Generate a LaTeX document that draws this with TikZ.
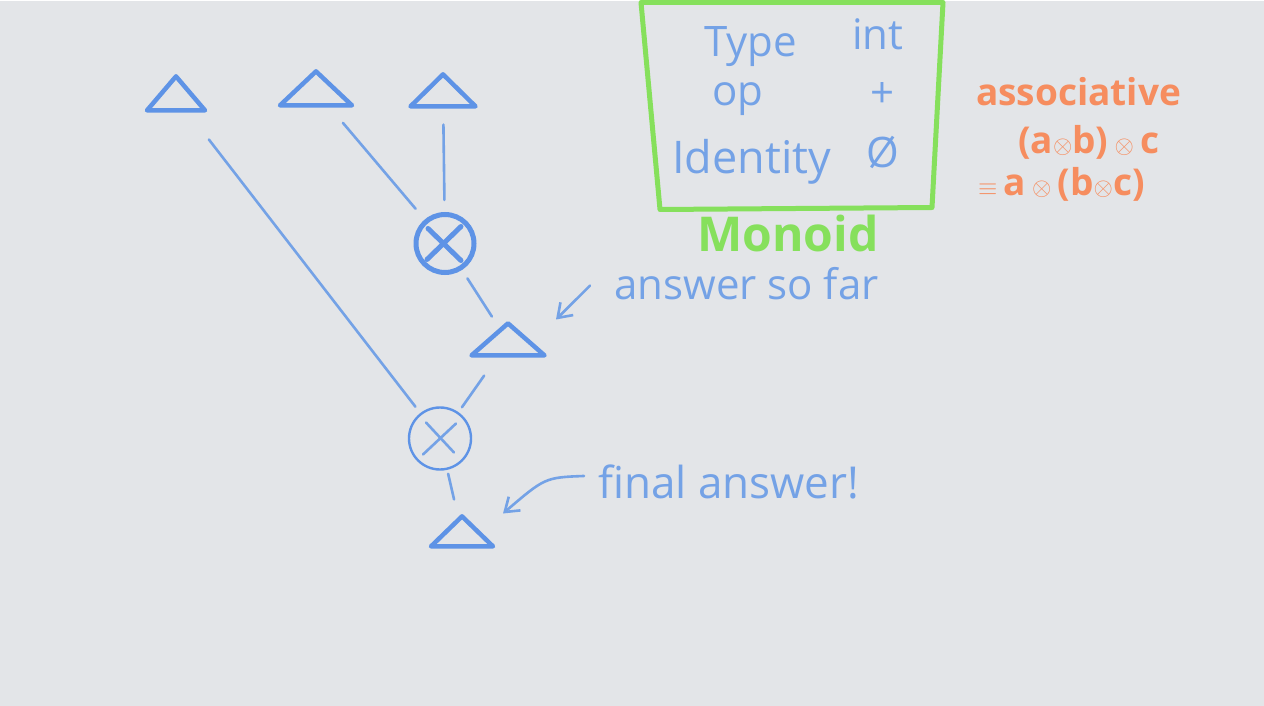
\documentclass[tikz,border=0pt]{standalone}
\usepackage{fontspec}
\setmainfont{Open Sans}
\usetikzlibrary{arrows.meta,positioning,shapes.geometric,calc}
\definecolor{board}{HTML}{E3E5E8}
\definecolor{pen}{HTML}{74A2E6}
\definecolor{ink}{HTML}{5E93E6}
\definecolor{lime}{HTML}{86E05C}
\definecolor{coral}{HTML}{F68D5F}

\begin{document}
\begin{tikzpicture}[x=1pt, y=-1pt,
      every node/.style={font=\fontsize{38}{44}\selectfont, text=pen, inner sep=0pt},
      tri/.style={draw=ink, line width=4.5pt, line join=round,
                  isosceles triangle, isosceles triangle stretches,
                  shape border rotate=90, anchor=apex, inner sep=0pt},
      opnode/.style={draw=ink, circle, inner sep=0pt},
      conn/.style={draw=pen, line width=2.6pt, line cap=round},
      arr/.style={-{Straight Barb[length=13pt,width=18pt]}, draw=pen,
                  line width=2.6pt, line cap=round},
      boxtext/.style={font=\fontsize{42}{48}\selectfont},
      rule/.style={text=coral, font=\fontsize{37}{42}\selectfont\bfseries}
  ]

    % ---- Whiteboard ----
    \fill[board] (0,0) rectangle (1264,704);

    % ---- Leaves (values) ----
    \node[tri, minimum width=58pt, minimum height=34pt] (leafa) at (176,69) {};
    \node[tri, minimum width=72pt, minimum height=34pt] (leafb) at (316,64) {};
    \node[tri, minimum width=65pt, minimum height=32pt] (leafc) at (443,67) {};

    % ---- Combine steps ----
    \node[opnode, line width=5pt, minimum size=58pt] (opa) at (445,242) {};
    \draw[ink, line width=5pt, line cap=round]
          ($(opa)+(-17,-15)$) -- ($(opa)+(16,17)$)
          ($(opa)+(16,-17)$) -- ($(opa)+(-18,16)$);

    \node[tri, minimum width=73pt, minimum height=32pt] (sofar) at (508,316) {};

    \node[opnode, line width=2.4pt, minimum size=62pt] (opb) at (440,437) {};
    \draw[pen, line width=2.6pt, line cap=round]
          ($(opb)+(-14,-16)$) -- ($(opb)+(14,14)$)
          ($(opb)+(16,-15)$) -- ($(opb)+(-17,16)$);

    \node[tri, minimum width=62pt, minimum height=30pt] (final) at (462,509) {};

    % ---- Tree edges ----
    \draw[conn, shorten <=34pt, shorten >=8pt] (leafa) -- (opb);
    \draw[conn, shorten <=20pt, shorten >=14pt] (leafb) -- (opa);
    \draw[conn, shorten <=16pt, shorten >=12pt] (leafc) -- (opa);
    \draw[conn, shorten <=10pt, shorten >=12pt] (opa) -- (sofar);
    \draw[conn, shorten <=22pt, shorten >=6pt] (sofar) -- (opb);
    \draw[conn, shorten <=4pt, shorten >=16pt] (opb) -- (final);

    % ---- Notes ----
    \node[anchor=base west, font=\fontsize{42}{48}\selectfont] (sofarnote)
          at (614,298) {answer so far};
    \coordinate (sofartip) at (556,318);
    \draw[arr] ($(sofarnote.west)+(-24,2)$) -- (sofartip);

    \node[anchor=base west, font=\fontsize{44}{50}\selectfont] (finalnote)
          at (598,497) {final answer!};
    \coordinate (finaltip) at (503,512);
    \draw[arr] ($(finalnote.west)+(-14,-6)$)
          .. controls (545,476) .. (finaltip);

    % ---- Monoid box ----
    \draw[lime, line width=5pt, line join=round]
          (641,1) -- (660,208) -- (932,206) -- (943,1) -- cycle;
    \node[boxtext, anchor=base west] (typekey) at (704,55) {Type};
    \node[boxtext, anchor=base west] (typeval) at (852,48) {int};
    \node[boxtext, anchor=base west] (opkey) at (712,104) {op};
    \node[boxtext, anchor=base west] (opval) at (870,106) {+};
    \node[boxtext, anchor=base west, font=\fontsize{45}{50}\selectfont]
          (idkey) at (672,172) {Identity};
    \node[boxtext, anchor=base west] (idval) at (866,166) {\O};
    \node[text=lime, font=\fontsize{48}{54}\selectfont\bfseries,
          anchor=base] (monoid) at (788,250) {Monoid};

    % ---- Associativity ----
    \node[rule, anchor=base west] (assoc) at (976,104) {associative};
    \node[rule, anchor=base west] (lhs) at (1018,152)
          {(a$\otimes$b)\,$\otimes$\,c};
    \node[rule, anchor=base west] (rhs) at (978,194)
          {$\equiv$\,a\,$\otimes$\,(b$\otimes$c)};

  \end{tikzpicture}
\end{document}
